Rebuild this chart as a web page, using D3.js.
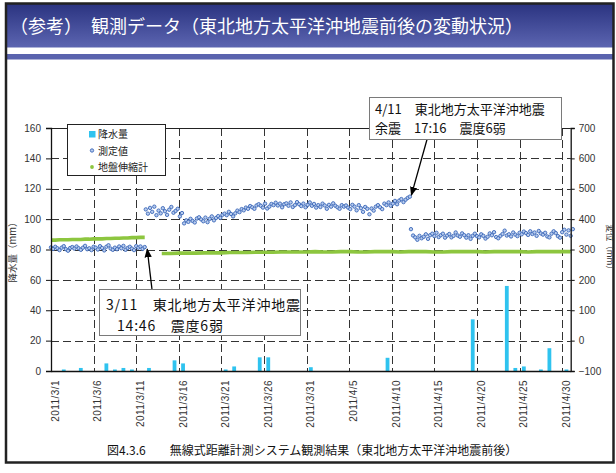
<!DOCTYPE html>
<html><head><meta charset="utf-8">
<script src="https://cdn.jsdelivr.net/npm/d3@7"></script>
<style>body{margin:0;background:#fff} svg{display:block}</style>
</head><body><svg id="c" width="616" height="473"></svg>
<script>
// ---------------- DATA ----------------
const xTickLabels = ["2011/3/1","2011/3/6","2011/3/11","2011/3/16","2011/3/21","2011/3/26","2011/3/31",
  "2011/4/5","2011/4/10","2011/4/15","2011/4/20","2011/4/25","2011/4/30"];
const leftTicks = [0,20,40,60,80,100,120,140,160];
const rightTicks = [-100,0,100,200,300,400,500,600,700];

// daily precipitation (mm), 2011/3/1 .. 2011/4/30
const rainfall = [0,1,0,2,0,0,5,1,2,1, 0,2,0,0,7,5,0,0,0,0, 1,3,0,0,9,9,0,0,0,0,
  2.5, 0,0,0,0,0,0,0,0,8.7, 0,0,0,0,0,0,0,0,0,34, 0,0,0,56,2,3,0,1,15,0, 1];

// 測定値 (mm), 6-hourly segments
const measStarts = ["2011-02-28T12:00","2011-03-11T15:00","2011-04-11T18:00"];
const meas1 = [307,302,
  309,304,298,306, 311,301,296,305, 308,303,310,304, 299,306,312,301, 304,298,309,306,
  300,311,305,297, 309,314,303,299, 306,301,310,304, 312,299,305,309, 303,298,311,306,
  310,302,308];
const meas2 = [432,418,
  437,424,441,413, 428,419,436,426, 414,431,440,421, 427,434,409,420, 386,396,391,401,
  394,389,402,406, 399,393,405,390, 401,409,396,404, 410,404,414,418, 413,424,417,409,
  419,428,423,433, 429,438,434,443, 439,434,445,449, 444,438,451,435, 441,450,446,454,
  445,451,439,449, 452,444,455,440, 446,456,449,443, 451,439,447,455, 444,450,438,446,
  440,451,445,434, 447,441,452,444, 439,434,446,441, 445,438,433,447, 441,429,446,436,
  424,440,434,416, 435,428,441,446, 439,433,451,446, 455,444,451,460, 449,461,466,456,
  464,470,474];
const meas3 = [367,346,
  340,332,345,337, 342,350,335,347, 352,344,355,341, 347,352,339,346, 351,340,345,356,
  346,342,353,347, 339,347,335,345, 352,344,340,350, 345,336,342,353, 347,357,341,337,
  345,351,362,346, 350,343,356,349, 344,355,350,359, 354,348,360,351, 356,345,361,353,
  349,355,343,340, 352,360,354,344, 339,357,365,349, 363,345,367];

// 地盤伸縮計 (mm)
const extStarts = ["2011-02-28T12:00","2011-03-13T12:00"];
const ext1 = [331,331,332,332,332,333,333,333,334,334,335,335,335,336,336,337,337,338,338,339,339,340,340]; // 12h
const ext2 = [287,287,288,288,288,289,289,289,290,290, 290,291,291,291,292,292,292,292,293,292,
  292,293,293,292,292,293,293,293,292,293, 293,293,292,292,293,293,293,293,292,293,
  293,293,293,292,293,293,293,293,293]; // daily

const titleText = "（参考）　観測データ（東北地方太平洋沖地震前後の変動状況）";
const captionText = "図4.3.6　　無線式距離計測システム観測結果（東北地方太平洋沖地震前後）";
const legendLabels = ["降水量","測定値","地盤伸縮計"];
const note1 = ["3/11　東北地方太平洋沖地震","14:46　震度6弱"];
const note2 = ["4/11　東北地方太平洋沖地震","余震　17:16　震度6弱"];

// ---------------- LAYOUT ----------------
const L = 51, R = 570.7, T = 128, B = 371;
const JP = "'Noto Sans CJK JP','Noto Sans',sans-serif";
const AR = "'Liberation Sans',Arial,sans-serif";
const svg = d3.select("#c");
const parse = d3.timeParse("%Y-%m-%dT%H:%M");

const yL = d3.scaleLinear().domain([0,160]).range([B,T]);
const yR = d3.scaleLinear().domain([-100,700]).range([B,T]);
const xBand = d3.scaleBand().domain(d3.range(rainfall.length)).range([L,R]);
const xTime = d3.scaleTime().domain([parse("2011-02-28T12:00"), parse("2011-04-30T12:00")]).range([L,R]);

// defs
const defs = svg.append("defs");
const g1 = defs.append("linearGradient").attr("id","tg").attr("x1",0).attr("y1",0).attr("x2",0).attr("y2",1);
g1.append("stop").attr("offset","0%").attr("stop-color","#2a3380");
g1.append("stop").attr("offset","100%").attr("stop-color","#5c65b1");
defs.append("marker").attr("id","ah").attr("viewBox","0 0 10 10").attr("refX",9).attr("refY",5)
  .attr("markerWidth",7).attr("markerHeight",7).attr("orient","auto-start-reverse")
  .append("path").attr("d","M0,1 L10,5 L0,9 Z").attr("fill","#000");

// frame + title
svg.append("rect").attr("x",5).attr("y",3.5).attr("width",608).attr("height",44).attr("fill","url(#tg)");
svg.append("rect").attr("x",5).attr("y",54).attr("width",608).attr("height",5.5).attr("fill","#5a63ae");
svg.append("text").attr("x",10).attr("y",33).attr("fill","#fff").attr("font-family",JP)
  .attr("font-size",18).text(titleText);
svg.append("rect").attr("x",6).attr("y",3.5).attr("width",607.5).attr("height",459)
  .attr("fill","none").attr("stroke","#222").attr("stroke-width",2.5);

// gridlines
const grid = svg.append("g").attr("stroke","#333").attr("stroke-width",1).attr("stroke-dasharray","8,4");
grid.selectAll("line.h").data(leftTicks.filter(d=>d>0&&d<160)).join("line")
  .attr("x1",L).attr("x2",R).attr("y1",d=>Math.round(yL(d))+0.5).attr("y2",d=>Math.round(yL(d))+0.5);
const labelIdx = xTickLabels.map((_,i)=>i*5);
grid.selectAll("line.v").data(labelIdx.filter(i=>i>0)).join("line")
  .attr("x1",i=>Math.round(xBand(i))+0.5).attr("x2",i=>Math.round(xBand(i))+0.5).attr("y1",T).attr("y2",B);

// bars
svg.append("g").selectAll("rect").data(rainfall.map((v,i)=>({v,i})).filter(d=>d.v>0)).join("rect")
  .attr("x",d=>xBand(d.i)+xBand.bandwidth()/2-1.9).attr("width",3.8)
  .attr("y",d=>yL(d.v)).attr("height",d=>B-yL(d.v)).attr("fill","#2fc3ef");

// extensometer lines
const lineR = d3.line().x(d=>xTime(d.t)).y(d=>yR(d.v));
const extSeg = [
  ext1.map((v,i)=>({t:d3.timeHour.offset(parse(extStarts[0]),12*i),v})),
  ext2.map((v,i)=>({t:d3.timeHour.offset(parse(extStarts[1]),24*i),v}))
];
svg.append("g").selectAll("path").data(extSeg).join("path").attr("d",lineR)
  .attr("fill","none").attr("stroke","#8dc63f").attr("stroke-width",3.6).attr("stroke-linecap","butt");

// measurement points
const measSeg = [meas1,meas2,meas3].map((arr,k)=>arr.map((v,i)=>({t:d3.timeHour.offset(parse(measStarts[k]),6*i),v})));
svg.append("g").selectAll("circle").data(measSeg.flat()).join("circle")
  .attr("cx",d=>xTime(d.t)).attr("cy",d=>yR(d.v)).attr("r",1.7)
  .attr("fill","#b8ccee").attr("stroke","#3a66b8").attr("stroke-width",0.9);

// plot border
svg.append("line").attr("x1",L).attr("x2",R).attr("y1",T+0.5).attr("y2",T+0.5).attr("stroke","#222");

// axes
const axL = svg.append("g").attr("transform",`translate(${L},0)`)
  .call(d3.axisLeft(yL).tickValues(leftTicks).tickSize(5).tickPadding(5));
const axR = svg.append("g").attr("transform",`translate(${R},0)`)
  .call(d3.axisRight(yR).tickValues(rightTicks).tickSize(4).tickPadding(4));
const axB = svg.append("g").attr("transform",`translate(0,${B})`)
  .call(d3.axisBottom(xBand).tickValues(labelIdx).tickFormat(i=>xTickLabels[i/5]).tickSize(0));
[axL,axR,axB].forEach(a=>{
  a.select(".domain").attr("stroke","#111").attr("stroke-width",1.3);
  a.selectAll(".tick line").attr("stroke","#111");
  a.selectAll("text").attr("font-family",AR).attr("font-size",10).attr("fill","#333");
});
axB.selectAll("text").attr("transform","rotate(-90)").attr("text-anchor","end")
  .attr("x",-9).attr("y",0).attr("dy","0.35em").attr("letter-spacing",0.45);
axR.selectAll("text").attr("x",8);

// axis titles
svg.append("text").attr("transform","translate(16,250) rotate(-90)").attr("text-anchor","middle")
  .attr("font-family",JP).attr("font-size",9.5).attr("fill","#333").text("降水量（mm）");
svg.append("text").attr("transform","translate(607,249) rotate(90)").attr("text-anchor","middle")
  .attr("font-family",JP).attr("font-size",8.5).attr("fill","#333").text("変位（mm）");

// legend
const lg = svg.append("g");
lg.append("rect").attr("x",67.5).attr("y",124.5).attr("width",98).attr("height",51)
  .attr("fill","#fff").attr("stroke","#222").attr("stroke-width",1);
lg.append("rect").attr("x",89).attr("y",131).attr("width",6.5).attr("height",6.5).attr("fill","#2fc3ef");
lg.append("circle").attr("cx",92).attr("cy",150.5).attr("r",1.7).attr("fill","#b8ccee").attr("stroke","#3a66b8").attr("stroke-width",0.9);
lg.append("circle").attr("cx",92).attr("cy",167).attr("r",1.9).attr("fill","#8dc63f");
lg.selectAll("text").data(legendLabels).join("text").attr("x",98).attr("y",(d,i)=>138+i*16.6)
  .attr("font-family",JP).attr("font-size",10).attr("fill","#222").text(d=>d);

// annotation boxes + arrows
function note(x,y,w,h,lines,xs,ys,fs,ls){
  const g = svg.append("g");
  g.append("rect").attr("x",x).attr("y",y).attr("width",w).attr("height",h)
    .attr("fill","#fff").attr("stroke","#7a7a7a").attr("stroke-width",1);
  lines.forEach((t,i)=>g.append("text").attr("x",xs[i]).attr("y",ys[i]).attr("font-family",JP)
    .attr("font-size",fs).attr("letter-spacing",ls).attr("fill","#111").text(t));
}
const last1 = measSeg[0][measSeg[0].length-1];
const last2 = measSeg[1][measSeg[1].length-1];
svg.append("line").attr("x1",152).attr("y1",289.5).attr("x2",xTime(last1.t)+2.5).attr("y2",yR(last1.v)+2)
  .attr("stroke","#000").attr("stroke-width",1.3).attr("marker-end","url(#ah)");
svg.append("line").attr("x1",427).attr("y1",139.5).attr("x2",xTime(last2.t)+1.5).attr("y2",yR(last2.v)-1.5)
  .attr("stroke","#000").attr("stroke-width",1.3).attr("marker-end","url(#ah)");
note(99.5,289.5,201,46,note1,[106,117],[310,331],14,0.8);
note(369.5,97.5,192,42,note2,[375,375],[114,133],13,0);

// caption
svg.append("text").attr("x",107).attr("y",455).attr("font-family",JP).attr("font-size",12)
  .attr("fill","#111").text(captionText);
</script></body></html>
